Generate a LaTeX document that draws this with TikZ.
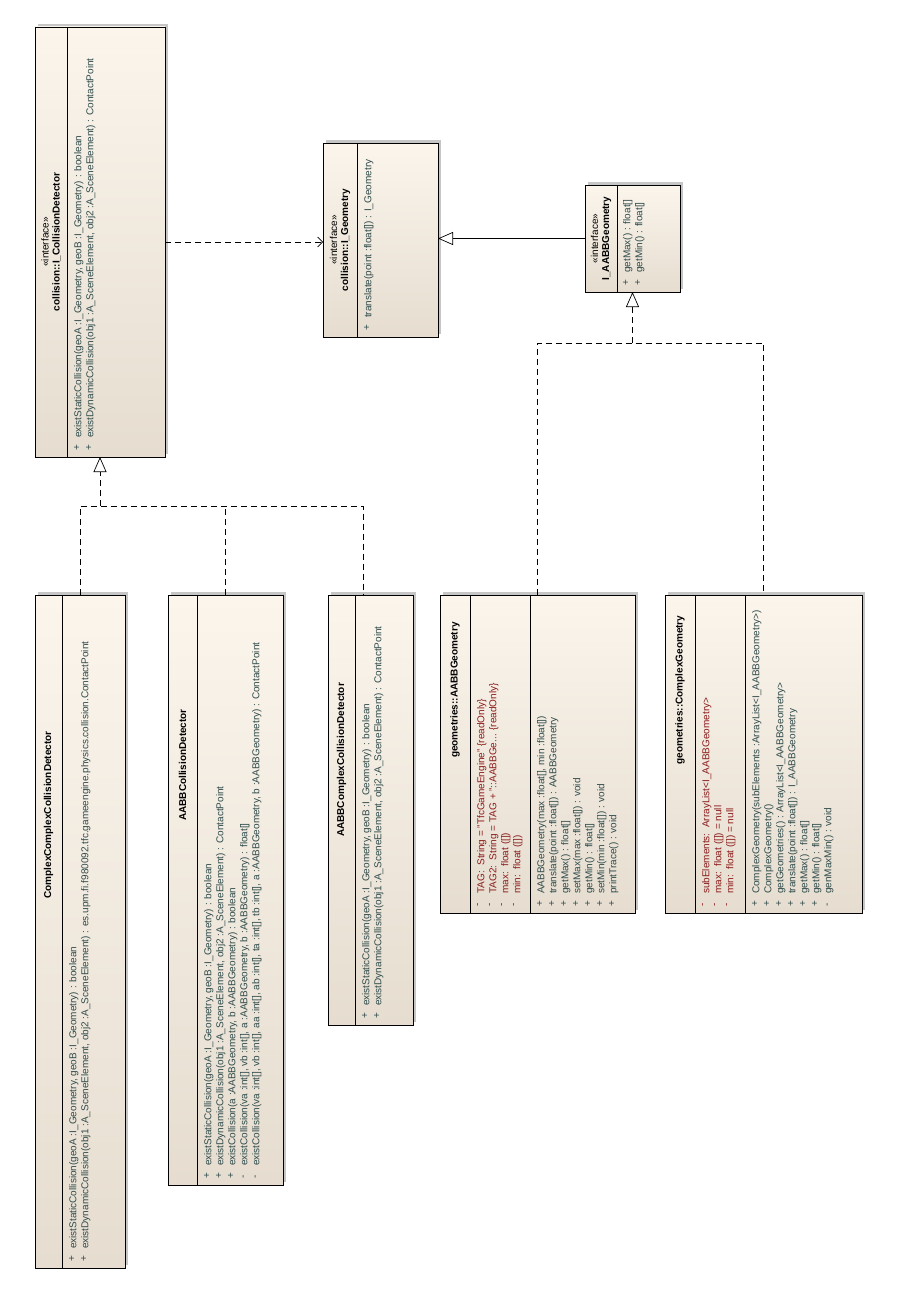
\documentclass[tikz,border=0pt]{standalone}
\usepackage{fontspec}
\setmainfont{Liberation Sans}
\usetikzlibrary{arrows.meta,shadows}
\definecolor{optxt}{HTML}{2F4B4B}
\definecolor{attrtxt}{HTML}{8B1C1C}
\definecolor{boxtop}{HTML}{FBF5EC}
\definecolor{boxbot}{HTML}{E6DDD0}
\definecolor{shadowgray}{HTML}{C6C6C6}
\begin{document}
\begin{tikzpicture}[x=1pt,y=-1pt,
  classbox/.style={draw=black, line width=0.8pt, top color=boxtop, bottom color=boxbot,
    inner sep=0pt, outer sep=0pt, anchor=north west,
    drop shadow={shadow xshift=3pt, shadow yshift=3pt, fill=shadowgray, opacity=1}},
  divider/.style={draw=black, line width=0.8pt},
  hdr/.style={rotate=90, align=center, font=\fontsize{10}{11}\selectfont, inner sep=0pt},
  marks/.style={rotate=90, align=left, anchor=north west,
    font=\fontsize{10}{12}\selectfont, text=optxt, inner sep=2pt},
  attrs/.style={marks, text=attrtxt},
  dline/.style={draw=black, line width=0.7pt, dash pattern=on 6pt off 4pt},
  realize/.style={dline, -{Triangle[open, fill=white, length=15pt, width=13pt]}},
  generalize/.style={draw=black, line width=0.7pt, -{Triangle[open, fill=white, length=15pt, width=13pt]}},
  depend/.style={dline, -{Straight Barb[length=5pt, width=10pt]}}
]
\useasboundingbox[fill=white] (0,0) rectangle (900,1295);

% ---------- interface collision::I_CollisionDetector ----------
\node[classbox, minimum width=130pt, minimum height=430pt] (A) at (35,27) {};
\draw[divider] ([xshift=32pt]A.north west) -- ([xshift=32pt]A.south west);
\node[hdr] at ([xshift=16pt]A.west) {«interface»\\\textbf{collision::I\_CollisionDetector}};
\node[marks] at ([xshift=37pt,yshift=4pt]A.south west) {+\\+};
\node[marks] at ([xshift=37pt,yshift=17pt]A.south west)
  {existStaticCollision(geoA :I\_Geometry, geoB :I\_Geometry) : boolean\\
   existDynamicCollision(obj1 :A\_SceneElement, obj2 :A\_SceneElement) : ContactPoint};

% ---------- interface collision::I_Geometry ----------
\node[classbox, minimum width=115pt, minimum height=194pt] (B) at (323,143) {};
\draw[divider] ([xshift=34pt]B.north west) -- ([xshift=34pt]B.south west);
\node[hdr] at ([xshift=17pt]B.west) {«interface»\\\textbf{collision::I\_Geometry}};
\node[marks] at ([xshift=39pt,yshift=4pt]B.south west) {+};
\node[marks] at ([xshift=39pt,yshift=17pt]B.south west) {translate(point :float[]) : I\_Geometry};

% ---------- interface I_AABBGeometry ----------
\node[classbox, minimum width=95pt, minimum height=107pt] (C) at (585,185) {};
\draw[divider] ([xshift=32pt]C.north west) -- ([xshift=32pt]C.south west);
\node[hdr] at ([xshift=16pt]C.west) {«interface»\\\textbf{I\_AABBGeometry}};
\node[marks] at ([xshift=36pt,yshift=4pt]C.south west) {+\\+};
\node[marks] at ([xshift=36pt,yshift=17pt]C.south west) {getMax() : float[]\\getMin() : float[]};

% ---------- ComplexComplexCollisionDetector ----------
\node[classbox, minimum width=90pt, minimum height=673pt] (D) at (35,595) {};
\draw[divider] ([xshift=27pt]D.north west) -- ([xshift=27pt]D.south west);
\node[hdr] at (48.5,815) {\textbf{ComplexComplexCollisionDetector}};
\node[marks] at ([xshift=32pt,yshift=4pt]D.south west) {+\\+};
\node[marks] at ([xshift=32pt,yshift=17pt]D.south west)
  {existStaticCollision(geoA :I\_Geometry, geoB :I\_Geometry) : boolean\\
   existDynamicCollision(obj1 :A\_SceneElement, obj2 :A\_SceneElement) : es.upm.fi.f980092.tfc.gameengine.physics.collision.ContactPoint};

% ---------- AABBCollisionDetector ----------
\node[classbox, minimum width=115pt, minimum height=590pt] (E) at (168,595) {};
\draw[divider] ([xshift=29pt]E.north west) -- ([xshift=29pt]E.south west);
\node[hdr] at (182.5,765) {\textbf{AABBCollisionDetector}};
\node[marks] at ([xshift=34pt,yshift=4pt]E.south west) {+\\+\\+\\-\\-};
\node[marks] at ([xshift=34pt,yshift=17pt]E.south west)
  {existStaticCollision(geoA :I\_Geometry, geoB :I\_Geometry) : boolean\\
   existDynamicCollision(obj1 :A\_SceneElement, obj2 :A\_SceneElement) : ContactPoint\\
   existCollision(a :AABBGeometry, b :AABBGeometry) : boolean\\
   existCollision(va :int[], vb :int[], a :AABBGeometry, b :AABBGeometry) : float[]\\
   existCollision(va :int[], vb :int[], aa :int[], ab :int[], ta :int[], tb :int[], a :AABBGeometry, b :AABBGeometry) : ContactPoint};

% ---------- AABBComplexCollisionDetector ----------
\node[classbox, minimum width=85pt, minimum height=430pt] (F) at (328,595) {};
\draw[divider] ([xshift=27pt]F.north west) -- ([xshift=27pt]F.south west);
\node[hdr] at (341.5,760) {\textbf{AABBComplexCollisionDetector}};
\node[marks] at ([xshift=32pt,yshift=4pt]F.south west) {+\\+};
\node[marks] at ([xshift=32pt,yshift=17pt]F.south west)
  {existStaticCollision(geoA :I\_Geometry, geoB :I\_Geometry) : boolean\\
   existDynamicCollision(obj1 :A\_SceneElement, obj2 :A\_SceneElement) : ContactPoint};

% ---------- geometries::AABBGeometry ----------
\node[classbox, minimum width=195pt, minimum height=318pt] (G) at (440,595) {};
\draw[divider] ([xshift=30pt]G.north west) -- ([xshift=30pt]G.south west);
\draw[divider] ([xshift=90pt]G.north west) -- ([xshift=90pt]G.south west);
\node[hdr] at (455,690) {\textbf{geometries::AABBGeometry}};
\node[attrs] at ([xshift=35pt,yshift=4pt]G.south west) {-\\-\\-\\-};
\node[attrs] at ([xshift=35pt,yshift=17pt]G.south west)
  {TAG:~~String = "TfcGameEngine" \{readOnly\}\\
   TAG2:~~String = TAG + "::AABBGe... \{readOnly\}\\
   max:~~float ([])\\
   min:~~float ([])};
\node[marks] at ([xshift=95pt,yshift=4pt]G.south west) {+\\+\\+\\+\\+\\+\\+};
\node[marks] at ([xshift=95pt,yshift=17pt]G.south west)
  {AABBGeometry(max :float[], min :float[])\\
   translate(point :float[]) : AABBGeometry\\
   getMax() : float[]\\
   setMax(max :float[]) : void\\
   getMin() : float[]\\
   setMin(min :float[]) : void\\
   printTrace() : void};

% ---------- geometries::ComplexGeometry ----------
\node[classbox, minimum width=197pt, minimum height=318pt] (H) at (665,595) {};
\draw[divider] ([xshift=30pt]H.north west) -- ([xshift=30pt]H.south west);
\draw[divider] ([xshift=80pt]H.north west) -- ([xshift=80pt]H.south west);
\node[hdr] at (680,690) {\textbf{geometries::ComplexGeometry}};
\node[attrs] at ([xshift=35pt,yshift=4pt]H.south west) {-\\-\\-};
\node[attrs] at ([xshift=35pt,yshift=17pt]H.south west)
  {subElements:~~ArrayList<I\_AABBGeometry>\\
   max:~~float ([]) = null\\
   min:~~float ([]) = null};
\node[marks] at ([xshift=85pt,yshift=4pt]H.south west) {+\\+\\+\\+\\+\\+\\-};
\node[marks] at ([xshift=85pt,yshift=17pt]H.south west)
  {ComplexGeometry(subElements :ArrayList<I\_AABBGeometry>)\\
   ComplexGeometry()\\
   getGeometries() : ArrayList<I\_AABBGeometry>\\
   translate(point :float[]) : I\_AABBGeometry\\
   getMax() : float[]\\
   getMin() : float[]\\
   genMaxMin() : void};

% ---------- connectors ----------
\draw[depend] (A.east) -- (A.east -| B.west);
\draw[generalize] (C.west) -- (C.west -| B.east);

\coordinate (busA) at ([yshift=-49pt]A.south);
\coordinate (Fin) at ([xshift=-7pt]F.north);
\draw[dline] (D.north) |- (Fin |- busA) -- (Fin);
\draw[dline] (E.north) -- (E.north |- busA);
\draw[realize] (busA) -- (A.south);

\coordinate (busC) at ([yshift=-51pt]C.south);
\draw[dline] (G.north) |- (H.north |- busC) -- (H.north);
\draw[realize] (busC) -- (C.south);
\end{tikzpicture}
\end{document}
